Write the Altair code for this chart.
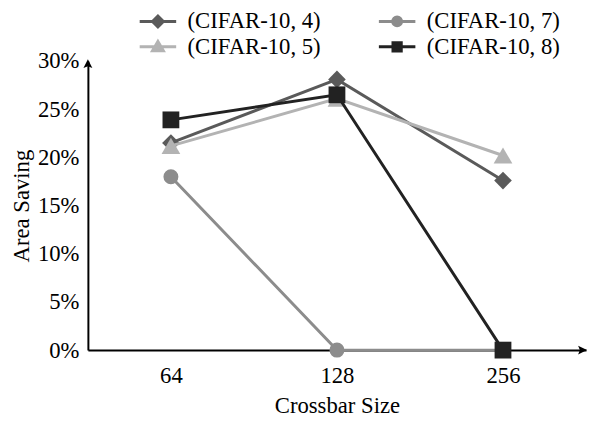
import altair as alt
import pandas as pd

# ---- data ----
sizes = ["64", "128", "256"]
series_names = ["(CIFAR-10, 4)", "(CIFAR-10, 7)", "(CIFAR-10, 5)", "(CIFAR-10, 8)"]
saving_c4 = [21.5, 28.1, 17.6]
saving_c7 = [18.0, 0.0, 0.0]
saving_c5 = [21.2, 26.1, 20.2]
saving_c8 = [23.9, 26.5, 0.0]
y_ticks = [0, 5, 10, 15, 20, 25, 30]

colors = ["#5a5a5a", "#8c8c8c", "#b3b3b3", "#222222"]
plot_shapes = ["diamond", "circle", "triangle-up", "square"]
plot_sizes = [320, 230, 360, 290]
legend_paths = [
    "M-1.85,0H1.85M0,-0.55L0.55,0L0,0.55L-0.55,0Z",
    "M-1.85,0H1.85M0.45,0A0.45,0.45,0,1,1,-0.45,0A0.45,0.45,0,1,1,0.45,0Z",
    "M-1.85,0H1.85M0,-0.55L0.55,0.4L-0.55,0.4Z",
    "M-1.85,0H1.85M-0.42,-0.42H0.42V0.42H-0.42Z",
]

values_by_series = [saving_c4, saving_c7, saving_c5, saving_c8]
rows = []
for name, vals in zip(series_names, values_by_series):
    for s, v in zip(sizes, vals):
        rows.append({"series": name, "size": s, "saving": v})
df = pd.DataFrame(rows)

# legend entries are laid out column by column: 4, 5 | 7, 8
legend_order = [0, 2, 1, 3]
legend_domain = [series_names[i] for i in legend_order]
legend_colors = [colors[i] for i in legend_order]
legend_shapes = [legend_paths[i] for i in legend_order]

FONT = "Liberation Serif"
W, H = 505, 293

X = alt.X(
    "size:O",
    sort=sizes,
    scale=alt.Scale(type="point", padding=0.5, domain=sizes),
    axis=alt.Axis(
        title="Crossbar Size",
        labelAngle=0,
        labelBaseline="alphabetic",
        labelPadding=33,
        tickSize=0,
        ticks=False,
        titleX=W / 2,
        titleY=63,
        titleBaseline="alphabetic",
        titleAlign="center",
    ),
)
Y = alt.Y(
    "saving:Q",
    scale=alt.Scale(domain=[0, 30], nice=False, zero=True),
    axis=alt.Axis(
        title="Area Saving",
        values=y_ticks,
        labelExpr="datum.value + '%'",
        labelPadding=9,
        labelFlush=False,
        labelBaseline="middle",
        tickSize=0,
        ticks=False,
        titleAngle=270,
        titleX=-60,
        titleY=H / 2,
        titleBaseline="alphabetic",
        titleAlign="center",
    ),
)

layers = []
for name, color, shp, sz in zip(series_names, colors, plot_shapes, plot_sizes):
    base = alt.Chart(df).transform_filter(alt.datum.series == name)
    layers.append(base.mark_line(color=color, strokeWidth=3).encode(x=X, y=Y))
    layers.append(
        base.mark_point(shape=shp, filled=True, color=color, size=sz, opacity=1).encode(x=X, y=Y)
    )

leg = alt.Legend(
    title=None,
    orient="none",
    legendX=59.5,
    legendY=-52,
    columns=2,
    labelFont=FONT,
    labelFontSize=23,
    labelColor="black",
    labelLimit=400,
    labelOffset=18.5,
    columnPadding=52.5,
    rowPadding=2,
    padding=0,
    symbolSize=400,
    symbolStrokeWidth=3,
)
legend_layer = (
    alt.Chart(df)
    .transform_filter("false")
    .mark_point(filled=True, size=400, strokeWidth=3, opacity=1)
    .encode(
        x=X,
        y=Y,
        color=alt.Color("series:N", scale=alt.Scale(domain=legend_domain, range=legend_colors), legend=leg),
        stroke=alt.Stroke("series:N", scale=alt.Scale(domain=legend_domain, range=legend_colors), legend=leg),
        shape=alt.Shape("series:N", scale=alt.Scale(domain=legend_domain, range=legend_shapes), legend=leg),
    )
)

one = pd.DataFrame({"k": [0]})
arrow_x = alt.Chart(one).mark_point(
    shape="M1,0L-0.8,-0.9L-0.45,0L-0.8,0.9Z", filled=True, color="black", size=100, opacity=1
).encode(x=alt.value(W - 4), y=alt.value(H))
arrow_y = alt.Chart(one).mark_point(
    shape="M0,-1L0.9,0.8L0,0.45L-0.9,0.8Z", filled=True, color="black", size=100, opacity=1
).encode(x=alt.value(0), y=alt.value(3))

chart = (
    alt.layer(*layers, legend_layer, arrow_x, arrow_y)
    .properties(
        width=W,
        height=H,
        padding={"left": 81, "top": 51, "right": 1, "bottom": 66},
        autosize=alt.AutoSizeParams(type="none"),
    )
    .configure_view(stroke=None)
    .configure_axis(
        domainColor="black",
        domainWidth=2,
        grid=False,
        labelFont=FONT,
        labelFontSize=23,
        labelColor="black",
        titleFont=FONT,
        titleFontSize=23,
        titleFontWeight="normal",
        titleColor="black",
    )
)

chart.save("out.html", embed_options={"renderer": "svg", "actions": False})
